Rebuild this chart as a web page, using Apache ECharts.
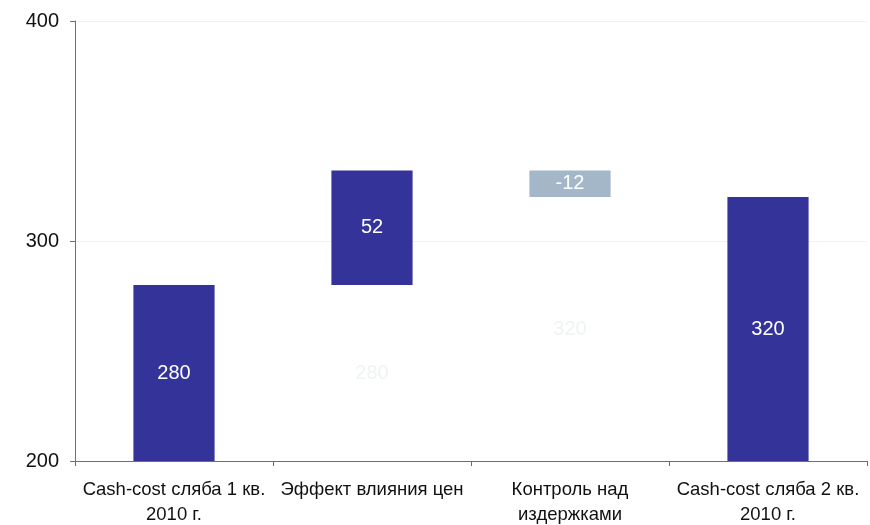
<!DOCTYPE html>
<html>
<head>
<meta charset="utf-8">
<script src="https://cdn.jsdelivr.net/npm/echarts@6/dist/echarts.min.js"></script>
<style>
  html, body { margin: 0; padding: 0; background: #ffffff; overflow: hidden; }
  #chart { width: 870px; height: 525px; }
</style>
</head>
<body>
<div id="chart"></div>
<script>
// Waterfall: slab cash-cost bridge from Q1 to Q2 2010
const categories = [
  'Cash-cost сляба 1 кв.\n2010 г.',
  'Эффект влияния цен',
  'Контроль над\nиздержками',
  'Cash-cost сляба 2 кв.\n2010 г.'
];
const steps = [280, 52, -12, 320];          // step value of each bar
const isTotal = [true, false, false, true]; // totals start from zero
const yTicks = { min: 200, max: 400, interval: 100 };

const FONT = 'Arial, "Liberation Sans", sans-serif';
const COLOR_UP = '#333399';
const COLOR_DOWN = '#a4b7c8';

// running totals -> [index, low, high] for visible bars, and hidden bases for steps
const barData = [];
const baseData = [];
let level = 0;
steps.forEach((v, i) => {
  if (isTotal[i]) {
    barData.push([i, 0, v]);
    level = v;
  } else {
    const next = level + v;
    barData.push([i, level, next]);
    baseData.push([i, 0, Math.min(level, next)]);
    level = next;
  }
});

function makeRender(kind) {
  return function (params, api) {
    const i = api.value(0);
    const a = api.value(1), b = api.value(2);
    const lo = Math.max(Math.min(a, b), yTicks.min);
    const hi = Math.max(a, b);
    const p0 = api.coord([i, lo]);
    const p1 = api.coord([i, hi]);
    const w = api.size([1, 0])[0] * 0.41;
    const x = p0[0] - w / 2;
    const h = p0[1] - p1[1];
    let fill, textFill, text;
    if (kind === 'base') {
      fill = 'rgba(0,0,0,0)';
      textFill = '#eef3f3';
      text = String(b);
    } else {
      const v = steps[params.dataIndex];
      fill = v < 0 ? COLOR_DOWN : COLOR_UP;
      textFill = '#ffffff';
      text = String(v);
    }
    return {
      type: 'group',
      children: [
        { type: 'rect', shape: { x: x, y: p1[1], width: w, height: h }, style: { fill: fill } },
        { type: 'text', style: { text: text, x: p0[0], y: p1[1] + h / 2, align: 'center', verticalAlign: 'middle', fill: textFill, fontSize: 20, fontFamily: FONT } }
      ]
    };
  };
}

const chart = echarts.init(document.getElementById('chart'), null, { renderer: 'canvas', width: 870, height: 525 });
chart.setOption({
  animation: false,
  backgroundColor: '#ffffff',
  grid: { left: 75, right: 3, top: 21, bottom: 64, containLabel: false, outerBoundsMode: 'none' },
  xAxis: {
    type: 'category',
    data: categories,
    axisLine: { lineStyle: { color: '#6e6e6e', width: 1 } },
    axisTick: { show: true, alignWithLabel: false, length: 5, lineStyle: { color: '#6e6e6e' } },
    axisLabel: { color: '#111111', fontSize: 18.5, fontFamily: FONT, margin: 16, lineHeight: 25, interval: 0 }
  },
  yAxis: {
    type: 'value',
    min: yTicks.min, max: yTicks.max, interval: yTicks.interval,
    axisLine: { show: true, lineStyle: { color: '#6e6e6e', width: 1 } },
    axisTick: { show: true, length: 5, lineStyle: { color: '#6e6e6e' } },
    axisLabel: { color: '#111111', fontSize: 20, fontFamily: FONT, margin: 16 },
    splitLine: { show: true, lineStyle: { color: '#f2f2f2', width: 1 } }
  },
  series: [
    { type: 'custom', name: 'base', renderItem: makeRender('base'), encode: { x: 0, y: [1, 2] }, data: baseData, clip: true, silent: true },
    { type: 'custom', name: 'bars', renderItem: makeRender('bar'), encode: { x: 0, y: [1, 2] }, data: barData, clip: true }
  ]
});
</script>
</body>
</html>
